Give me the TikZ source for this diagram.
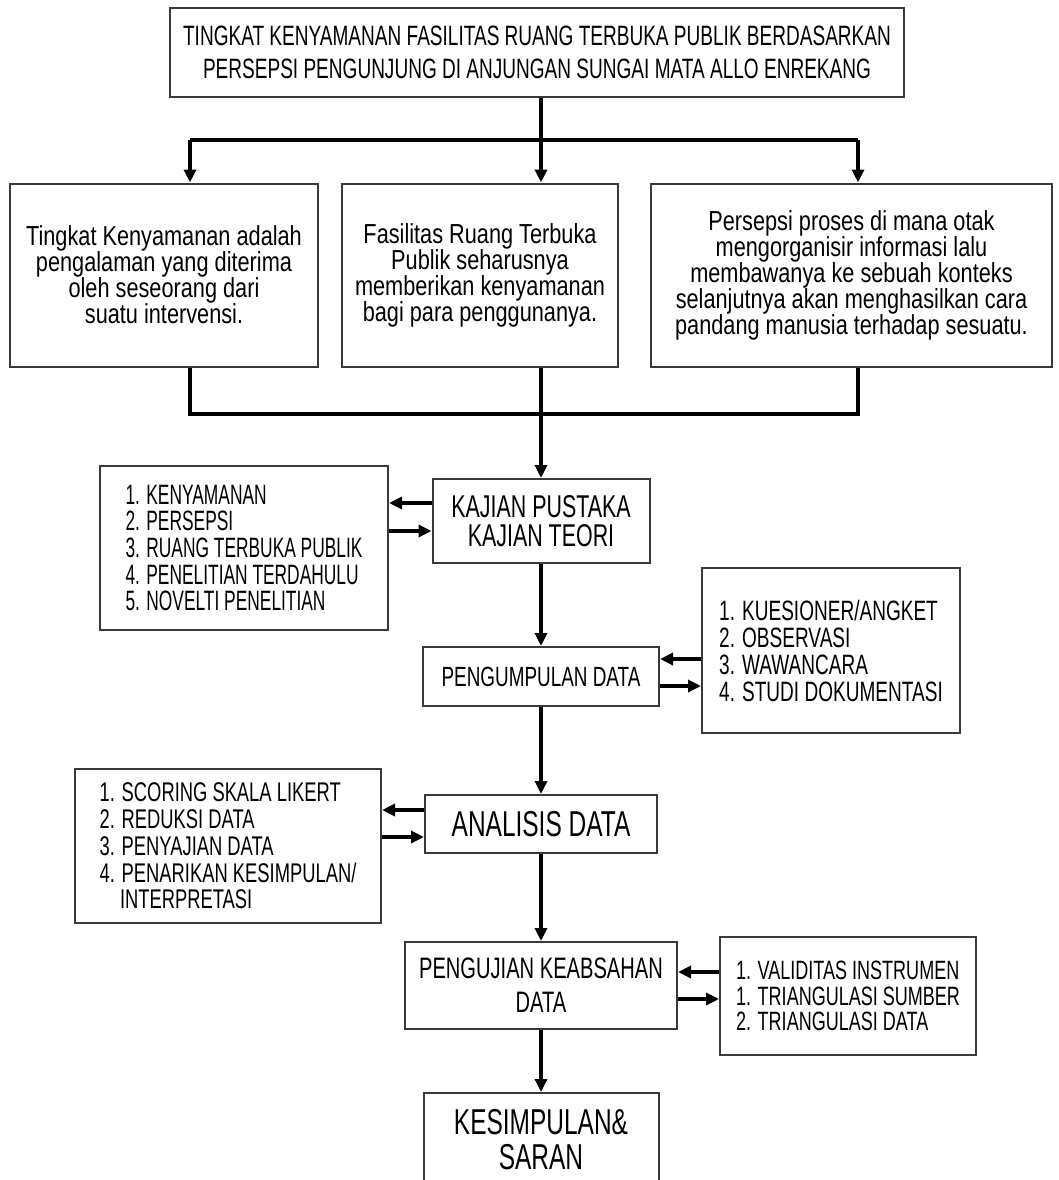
\documentclass[tikz,border=0pt]{standalone}
\usepackage{fontspec}
\setmainfont{Liberation Sans}
\newfontfamily\capsfont{Liberation Sans}[FakeStretch=0.68]
\newfontfamily\slimfont{Liberation Sans}[FakeStretch=0.62]
\newfontfamily\bodyfont{Liberation Sans}[FakeStretch=0.79]
\usetikzlibrary{arrows.meta}
\definecolor{boxgray}{HTML}{3A3A3A}
\newcommand{\setcaps}[2]{\fontsize{#1}{#2}\selectfont\capsfont}
\newcommand{\setslim}[2]{\fontsize{#1}{#2}\selectfont\slimfont}
\newcommand{\settext}[2]{\fontsize{#1}{#2}\selectfont\bodyfont}
\tikzset{
box/.style={
		draw=boxgray,
		line width=2pt,
		inner sep=0pt,
		align=center
	},
listbox/.style={box, align=left},
link/.style={line width=4pt},
flow/.style={link, -{Triangle[length=13pt,width=12pt]}}
}

\begin{document}
\begin{tikzpicture}[x=1pt,y=-1pt]
			\clip (0,0) rectangle (1059,1180);
			\fill[white] (0,0) rectangle (1059,1180);
			% judul
			\node[box, minimum width=734pt, minimum height=89pt, font=\setcaps{28}{33.5}] (judul) at (537,52.5)
			{TINGKAT KENYAMANAN FASILITAS RUANG TERBUKA PUBLIK BERDASARKAN\\PERSEPSI PENGUNJUNG DI ANJUNGAN SUNGAI MATA ALLO ENREKANG};
			% tiga konsep
			\node[box, minimum width=308pt, minimum height=183pt, font=\settext{27.5}{26}] (kenyamanan) at (164,275)
			{Tingkat Kenyamanan adalah\\pengalaman yang diterima\\oleh seseorang dari\\suatu intervensi.};
			\node[box, minimum width=276pt, minimum height=183pt, font=\settext{27.5}{26}] (fasilitas) at (480,275)
			{Fasilitas Ruang Terbuka\\Publik seharusnya\\memberikan kenyamanan\\bagi para penggunanya.};
			\node[box, minimum width=401pt, minimum height=183pt, font=\settext{27.5}{26}] (persepsi) at (851.5,275)
			{Persepsi proses di mana otak\\mengorganisir informasi lalu\\membawanya ke sebuah konteks\\selanjutnya akan menghasilkan cara\\pandang manusia terhadap sesuatu.};
			% alur utama
			\node[box, minimum width=217pt, minimum height=84pt, font=\setcaps{31.5}{29}] (kajian) at (541,521)
			{KAJIAN PUSTAKA\\KAJIAN TEORI};
			\node[box, minimum width=236pt, minimum height=59pt, font=\setcaps{27.8}{28}] (kumpul) at (541,676.5)
			{PENGUMPULAN DATA};
			\node[box, minimum width=232pt, minimum height=58pt, font=\setcaps{36}{36}] (analisis) at (541,824)
			{ANALISIS DATA};
			\node[box, minimum width=272pt, minimum height=87pt, font=\setcaps{29.6}{34}] (uji) at (541,985.5)
			{PENGUJIAN KEABSAHAN\\DATA};
			\node[box, minimum width=235pt, minimum height=94pt, font=\setcaps{36}{35}] (simpulan) at (541,1140)
			{KESIMPULAN\&\\SARAN};
			% daftar samping
			\node[listbox, minimum width=288pt, minimum height=164pt, font=\setslim{28}{26.7}] (teori) at (244,548)
			{1. KENYAMANAN\\2. PERSEPSI\\3. RUANG TERBUKA PUBLIK\\4. PENELITIAN TERDAHULU\\5. NOVELTI PENELITIAN};
			\node[listbox, minimum width=258pt, minimum height=165pt, font=\setcaps{28}{27}] (teknik) at (831,650.5)
			{1. KUESIONER/ANGKET\\2. OBSERVASI\\3. WAWANCARA\\4. STUDI DOKUMENTASI};
			\node[listbox, minimum width=306pt, minimum height=154pt, font=\setcaps{27}{26.7}] (olah) at (228,846)
			{1. SCORING SKALA LIKERT\\2. REDUKSI DATA\\3. PENYAJIAN DATA\\4. PENARIKAN KESIMPULAN/\\\hphantom{4.~}INTERPRETASI};
			\node[listbox, minimum width=256pt, minimum height=118pt, font=\setcaps{26.5}{25.7}] (valid) at (848,996)
			{1. VALIDITAS INSTRUMEN\\1. TRIANGULASI SUMBER\\2. TRIANGULASI DATA};
			% percabangan atas
			\coordinate (pisah) at (541,140);
			\coordinate (pisahL) at (190,140);
			\coordinate (pisahR) at (858,140);
			\draw[link] (pisah |- judul.south) -- (pisah);
			\draw[link] (pisahL) -- (pisahR);
			\draw[flow] (pisahL) -- (pisahL |- kenyamanan.north);
			\draw[flow] (pisah) -- (pisah |- fasilitas.north);
			\draw[flow] (pisahR) -- (pisahR |- persepsi.north);
			% penggabungan
			\coordinate (gabung) at (541,414);
			\coordinate (gabungL) at (190,414);
			\coordinate (gabungR) at (858,414);
			\draw[link] (gabungL |- kenyamanan.south) -- (gabungL) -- (gabungR) -- (gabungR |- persepsi.south);
			\draw[link] (gabung |- fasilitas.south) -- (gabung);
			\draw[flow] (gabung) -- (kajian.north);
			% alur ke bawah
			\draw[flow] (kajian) -- (kumpul);
			\draw[flow] (kumpul) -- (analisis);
			\draw[flow] (analisis) -- (uji);
			\draw[flow] (uji) -- (simpulan);
			% panah samping
			\draw[flow] ([yshift=18pt]kajian.west) -- ([yshift=18pt]kajian.west -| teori.east);
			\draw[flow] ([yshift=-10pt]kajian.west -| teori.east) -- ([yshift=-10pt]kajian.west);
			\draw[flow] ([yshift=17.5pt]kumpul.east -| teknik.west) -- ([yshift=17.5pt]kumpul.east);
			\draw[flow] ([yshift=-9.5pt]kumpul.east) -- ([yshift=-9.5pt]kumpul.east -| teknik.west);
			\draw[flow] ([yshift=14pt]analisis.west) -- ([yshift=14pt]analisis.west -| olah.east);
			\draw[flow] ([yshift=-13pt]analisis.west -| olah.east) -- ([yshift=-13pt]analisis.west);
			\draw[flow] ([yshift=13.5pt]uji.east -| valid.west) -- ([yshift=13.5pt]uji.east);
			\draw[flow] ([yshift=-13.5pt]uji.east) -- ([yshift=-13.5pt]uji.east -| valid.west);
\end{tikzpicture}
\end{document}
